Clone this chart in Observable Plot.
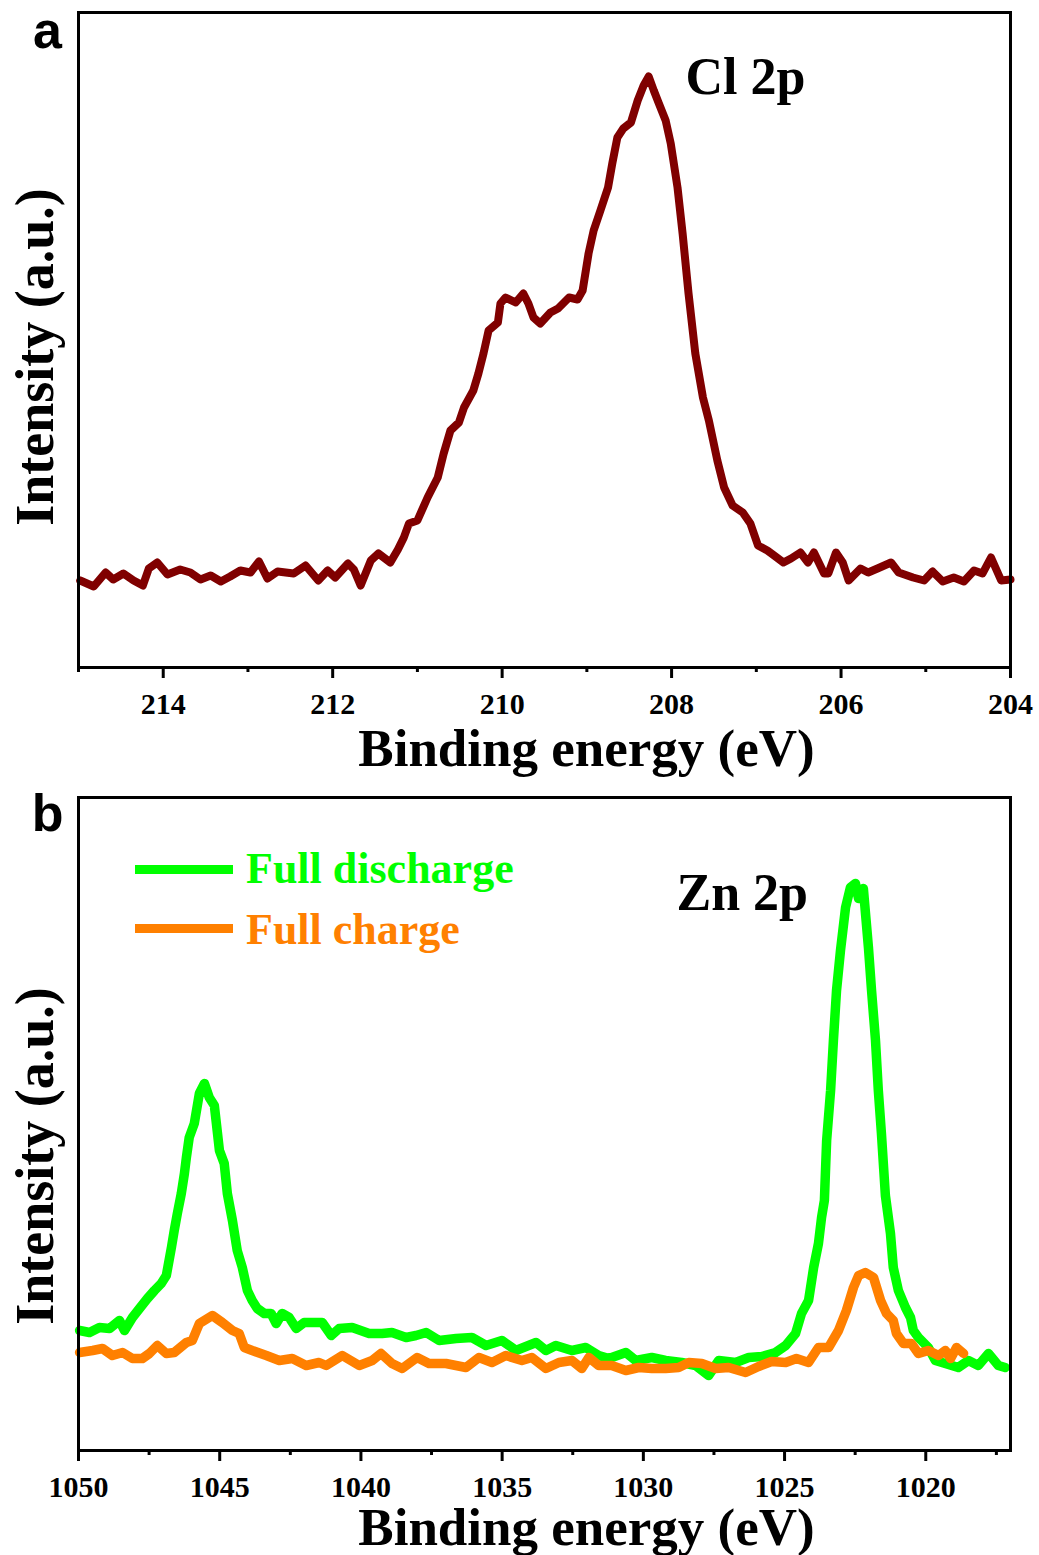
<!DOCTYPE html>
<html>
<head>
<meta charset="utf-8">
<script src="https://cdn.jsdelivr.net/npm/d3@7"></script>
<script src="https://cdn.jsdelivr.net/npm/@observablehq/plot@0.6"></script>
<style>
  html, body { margin: 0; padding: 0; background: #fff; }
  #wrap { position: relative; width: 1039px; height: 1555px; overflow: hidden; }
  #wrap svg { display: block; }
  .swatch { position: absolute; height: 9px; width: 98px; }
  .legtext { position: absolute; font-family: "Liberation Serif", "Times New Roman", serif; font-weight: bold; font-size: 44px; line-height: 44px; white-space: nowrap; }
</style>
</head>
<body>
<div id="wrap"></div>
<script>
// ---------- Panel a: Cl 2p ----------
const clEnergy = [214.98,214.82,214.68,214.59,214.47,214.35,214.24,214.17,214.07,213.95,213.80,213.68,213.56,213.44,213.32,213.21,213.09,212.97,212.87,212.77,212.65,212.46,212.32,212.17,212.06,211.97,211.82,211.75,211.67,211.55,211.46,211.32,211.23,211.16,211.10,211.00,210.88,210.76,210.69,210.61,210.51,210.45,210.34,210.28,210.22,210.16,210.05,210.02,209.96,209.84,209.75,209.69,209.63,209.55,209.43,209.34,209.21,209.11,209.05,208.98,208.92,208.84,208.75,208.70,208.64,208.57,208.48,208.40,208.33,208.27,208.21,208.15,208.07,208.01,207.93,207.87,207.80,207.72,207.63,207.56,207.46,207.38,207.28,207.16,207.07,206.98,206.87,206.79,206.68,206.59,206.48,206.39,206.32,206.20,206.15,206.06,205.98,205.91,205.77,205.68,205.57,205.41,205.32,205.15,205.02,204.92,204.80,204.67,204.55,204.43,204.33,204.23,204.11,204.00];
const clIntensity = [87,81,95,88,94,87,82,99,105,93,98,95,88,92,86,91,97,95,106,89,96,94,102,87,97,90,104,98,82,107,114,105,118,130,144,147,170,190,214,237,245,260,277,294,314,337,345,364,370,365,374,364,350,344,355,359,370,368,377,414,437,457,480,504,530,539,545,567,582,591,577,564,547,524,480,434,374,314,270,247,207,180,162,155,144,122,117,112,105,109,115,105,115,94,94,115,105,87,99,95,99,105,95,90,87,96,86,90,86,97,94,110,87,88];

// ---------- Panel b: Zn 2p ----------
const dischargeEnergy = [1049.96,1049.61,1049.26,1048.90,1048.55,1048.37,1048.09,1047.84,1047.56,1047.31,1047.07,1046.89,1046.71,1046.61,1046.50,1046.36,1046.25,1046.18,1046.08,1045.90,1045.72,1045.54,1045.37,1045.19,1045.01,1044.84,1044.73,1044.55,1044.38,1044.20,1044.02,1043.85,1043.67,1043.42,1043.18,1043.00,1042.79,1042.54,1042.29,1042.01,1041.37,1041.05,1040.77,1040.31,1039.71,1039.25,1038.90,1038.40,1038.05,1037.69,1037.23,1036.63,1036.07,1035.57,1035.01,1034.51,1033.80,1033.45,1033.10,1032.53,1032.04,1031.58,1031.22,1030.62,1030.27,1029.70,1029.21,1028.64,1028.15,1027.69,1027.33,1026.73,1026.27,1025.81,1025.32,1024.96,1024.61,1024.40,1024.15,1023.97,1023.80,1023.69,1023.59,1023.51,1023.37,1023.27,1023.16,1023.02,1022.84,1022.67,1022.49,1022.38,1022.21,1022.03,1021.92,1021.78,1021.68,1021.57,1021.43,1021.25,1021.15,1020.97,1020.72,1020.54,1020.44,1020.26,1019.91,1019.66,1019.31,1018.85,1018.49,1018.14,1017.78,1017.43,1017.19];
const dischargeIntensity = [120,118,123,122,130,120,133,142,152,160,167,175,203,220,237,257,277,293,313,327,357,367,353,345,300,287,257,230,200,183,160,150,142,137,137,127,137,133,122,128,128,115,122,123,117,117,118,113,115,118,110,112,113,105,110,100,108,100,105,100,103,95,92,98,90,93,90,88,85,75,90,88,93,94,98,105,117,137,150,183,207,233,250,310,360,410,460,500,543,563,567,552,562,503,460,410,360,317,255,217,183,160,143,133,120,113,103,90,87,83,90,85,97,85,83];

const chargeEnergy = [1049.96,1049.50,1049.15,1048.80,1048.44,1048.09,1047.74,1047.49,1047.21,1046.89,1046.61,1046.18,1045.97,1045.72,1045.26,1044.91,1044.55,1044.31,1044.13,1043.85,1043.35,1042.89,1042.43,1041.94,1041.48,1041.23,1040.66,1040.06,1039.60,1039.29,1038.90,1038.54,1038.01,1037.59,1036.99,1036.28,1035.82,1035.36,1034.87,1034.30,1033.95,1033.45,1032.99,1032.53,1032.18,1031.93,1031.58,1031.12,1030.62,1030.16,1029.70,1029.21,1028.75,1028.39,1027.93,1027.44,1026.98,1026.38,1025.92,1025.46,1024.96,1024.58,1024.15,1023.80,1023.44,1023.09,1022.81,1022.56,1022.38,1022.14,1021.85,1021.60,1021.39,1021.15,1021.04,1020.79,1020.51,1020.26,1019.91,1019.55,1019.31,1019.12,1018.91,1018.66];
const chargeIntensity = [98,100,102,95,98,92,92,97,105,97,98,108,110,127,135,128,120,117,103,100,95,90,92,85,88,85,95,85,90,97,87,82,93,87,87,83,93,88,95,90,93,82,88,90,82,93,85,85,80,83,82,82,83,88,87,82,83,78,84,89,88,92,88,103,103,120,140,163,175,178,173,150,137,130,117,107,107,97,100,95,100,92,103,97];

// axis ticks and labels
const clMajorTicks = [214, 212, 210, 208, 206, 204];
const clMinorTicks = [215, 213, 211, 209, 207, 205];
const znMajorTicks = [1050, 1045, 1040, 1035, 1030, 1025, 1020];
const znMinorTicks = [1047.5, 1042.5, 1037.5, 1032.5, 1027.5, 1022.5, 1017.5];
const seriesNames = ["Full discharge", "Full charge"];
const seriesColors = ["#00ff00", "#ff8000"];

const clData = clEnergy.map((e, i) => ({energy: e, intensity: clIntensity[i]}));
const znData = [
  ...dischargeEnergy.map((e, i) => ({energy: e, intensity: dischargeIntensity[i], series: seriesNames[0]})),
  ...chargeEnergy.map((e, i) => ({energy: e, intensity: chargeIntensity[i], series: seriesNames[1]}))
];

const SERIF = "Liberation Serif, Times New Roman, serif";
const SANS = "Liberation Sans, Arial, sans-serif";

function axes(major, minor) {
  return [
    Plot.axisX({ticks: major, tickSize: 11, tickPadding: 14, tickFormat: d => String(d),
      fontSize: 30, fontWeight: "bold", fontFamily: SERIF, strokeWidth: 3, label: null, color: "#000"}),
    Plot.axisX({ticks: minor, tickSize: 5, text: null, strokeWidth: 3, label: null}),
    Plot.frame({stroke: "#000", strokeWidth: 3})
  ];
}

const panelA = Plot.plot({
  width: 1039, height: 785,
  marginLeft: 78, marginRight: 29, marginTop: 12, marginBottom: 118,
  style: {background: "#fff", color: "#000", overflow: "visible"},
  x: {domain: [215, 204]},
  y: {domain: [0, 655], axis: null},
  marks: [
    Plot.line(clData, {x: "energy", y: "intensity", stroke: "#800000", strokeWidth: 8, strokeLinejoin: "round", strokeLinecap: "round"}),
    ...axes(clMajorTicks, clMinorTicks),
    Plot.text(["Binding energy (eV)"], {frameAnchor: "bottom", dx: 42, dy: 98, lineAnchor: "bottom",
      fontSize: 53, fontWeight: "bold", fontFamily: SERIF, fill: "#000"}),
    Plot.text(["Intensity (a.u.)"], {frameAnchor: "left", textAnchor: "middle", dx: -43, dy: 17, rotate: -90, lineAnchor: "middle",
      fontSize: 54, fontWeight: "bold", fontFamily: SERIF, fill: "#000"}),
    Plot.text(["a"], {frameAnchor: "top-left", textAnchor: "middle", dx: -31, dy: 35, lineAnchor: "bottom",
      fontSize: 52, fontWeight: "bold", fontFamily: SANS, fill: "#000"}),
    Plot.text(["Cl 2p"], {frameAnchor: "top-left", dx: 607, dy: 81, lineAnchor: "bottom", textAnchor: "start",
      fontSize: 52, fontWeight: "bold", fontFamily: SERIF, fill: "#000"})
  ]
});

const panelB = Plot.plot({
  width: 1039, height: 770,
  marginLeft: 78, marginRight: 29, marginTop: 12, marginBottom: 105,
  style: {background: "#fff", color: "#000", overflow: "visible"},
  x: {domain: [1050, 1017]},
  y: {domain: [0, 653], axis: null},
  color: {domain: seriesNames, range: seriesColors},
  marks: [
    Plot.line(znData, {x: "energy", y: "intensity", z: "series", stroke: "series", strokeWidth: 9.5, strokeLinejoin: "round", strokeLinecap: "round"}),
    ...axes(znMajorTicks, znMinorTicks),
    Plot.text(["Binding energy (eV)"], {frameAnchor: "bottom", dx: 42, dy: 94, lineAnchor: "bottom",
      fontSize: 53, fontWeight: "bold", fontFamily: SERIF, fill: "#000"}),
    Plot.text(["Intensity (a.u.)"], {frameAnchor: "left", textAnchor: "middle", dx: -43, dy: 32, rotate: -90, lineAnchor: "middle",
      fontSize: 54, fontWeight: "bold", fontFamily: SERIF, fill: "#000"}),
    Plot.text(["b"], {frameAnchor: "top-left", textAnchor: "middle", dx: -31, dy: 33, lineAnchor: "bottom",
      fontSize: 52, fontWeight: "bold", fontFamily: SANS, fill: "#000"}),
    Plot.text(["Zn 2p"], {frameAnchor: "top-left", dx: 598, dy: 112, lineAnchor: "bottom", textAnchor: "start",
      fontSize: 52, fontWeight: "bold", fontFamily: SERIF, fill: "#000"})
  ]
});

const wrap = document.getElementById("wrap");
wrap.appendChild(panelA);
wrap.appendChild(panelB);

// legend (HTML overlay)
const legendRows = [{top: 869, textTop: 847}, {top: 928, textTop: 908}];
seriesNames.forEach((name, i) => {
  const sw = document.createElement("div");
  sw.className = "swatch";
  sw.style.left = "135px";
  sw.style.top = (legendRows[i].top - 4.5) + "px";
  sw.style.background = seriesColors[i];
  wrap.appendChild(sw);
  const tx = document.createElement("div");
  tx.className = "legtext";
  tx.style.left = "246px";
  tx.style.top = legendRows[i].textTop + "px";
  tx.style.color = seriesColors[i];
  tx.textContent = name;
  wrap.appendChild(tx);
});
</script>
</body>
</html>
